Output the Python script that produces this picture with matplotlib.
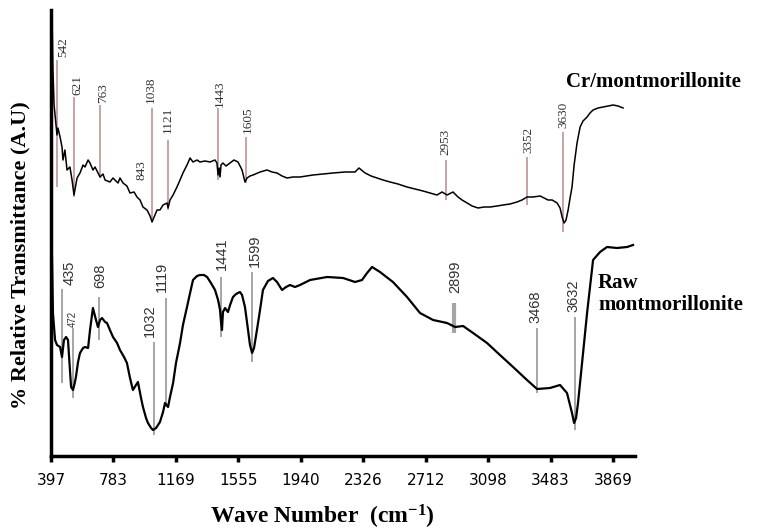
import numpy as np
import matplotlib
matplotlib.use("Agg")
import matplotlib.pyplot as plt

# FTIR spectra (wave number in cm-1, transmittance in arbitrary units)
cr_wn = [403, 409, 416, 422, 434, 440, 453, 465, 471, 483, 496, 514, 527, 539, 558, 576, 595, 607,
         626, 638, 656, 669, 700, 718, 731, 761, 780, 792, 811, 823, 842, 866, 885, 910, 928, 947,
         965, 990, 1009, 1021, 1039, 1052, 1070, 1089, 1114, 1120, 1132, 1151, 1175, 1194, 1212,
         1237, 1256, 1274, 1299, 1317, 1348, 1379, 1410, 1422, 1429, 1435, 1441, 1447, 1459, 1478,
         1503, 1527, 1552, 1577, 1595, 1608, 1626, 1645, 1688, 1731, 1762, 1793, 1824, 1855, 1892,
         1935, 2015, 2077, 2139, 2213, 2275, 2299, 2337, 2374, 2411, 2448, 2491, 2540, 2596, 2645,
         2695, 2738, 2781, 2812, 2843, 2880, 2911, 2936, 2967, 2998, 3035, 3072, 3109, 3152, 3189,
         3232, 3275, 3306, 3337, 3374, 3418, 3467, 3492, 3523, 3541, 3554, 3566, 3578, 3591, 3603,
         3615, 3628, 3646, 3665, 3683, 3708, 3726, 3745, 3776, 3807, 3838, 3869, 3899, 3930]
cr_t = [444, 386, 351, 341, 321, 328, 319, 309, 296, 306, 286, 289, 276, 261, 278, 283, 291, 289,
        296, 293, 286, 289, 279, 282, 276, 274, 278, 276, 273, 278, 273, 270, 263, 264, 259, 256,
        249, 246, 240, 234, 241, 246, 246, 251, 253, 248, 256, 261, 269, 276, 283,
        291, 298, 294, 296, 294, 295, 294, 296, 293, 281, 288, 279, 291, 293, 290,
        293, 296, 294, 286, 274, 278, 280, 281, 284, 286, 284, 283, 280, 278, 279,
        279, 281, 282, 283, 284, 284, 288, 283, 280, 278, 276, 274, 272, 269, 267,
        265, 263, 261, 264, 261, 264, 259, 256, 253, 250, 248, 249, 249, 250, 251,
        252, 254, 256, 259, 259, 260, 256, 256, 253, 248, 239, 233, 236, 246, 258,
        269, 291, 313, 329, 335, 339, 343, 346, 348, 349, 350, 351, 350, 348]

raw_wn = [403, 409, 422, 434, 453, 465, 477, 490, 502, 514, 521, 533, 545, 551, 564, 576, 595, 607,
          626, 638, 656, 675, 687, 700, 712, 731, 743, 761, 780, 805, 823, 848, 866, 885, 903, 922,
          934, 953, 965, 984, 996, 1015, 1027, 1046, 1070, 1089, 1101, 1120, 1132, 1151, 1169,
          1194, 1212, 1237, 1256, 1274, 1299, 1317, 1342, 1361, 1385, 1410, 1429, 1441, 1447, 1453,
          1459, 1472, 1490, 1503, 1521, 1540, 1564, 1577, 1595, 1614, 1626, 1639, 1651, 1669, 1688,
          1706, 1737, 1768, 1793, 1824, 1849, 1873, 1904, 1935, 1997, 2102, 2201, 2275, 2318, 2349,
          2380, 2429, 2509, 2596, 2676, 2757, 2843, 2893, 2942, 3004, 3090, 3170, 3251, 3337, 3399,
          3479, 3541, 3584, 3615, 3628, 3640, 3652, 3677, 3708, 3745, 3788, 3831, 3893, 3955, 3992]
raw_t = [199, 143, 116, 111, 109, 99, 116, 119, 116, 86, 69, 66, 74, 79, 94, 103, 108, 109,
         108, 126, 148, 136, 129, 136, 138, 134, 133, 126, 119, 113, 106, 99, 93, 78, 66, 71,
         74, 58, 49, 38, 33, 28, 26, 28, 34, 44, 53, 49, 59, 73, 93,
         113, 131, 149, 163, 176, 180, 181, 181, 179, 173, 166, 156, 146, 134, 126,
         144, 148, 144, 151, 159, 162, 164, 161, 149, 126, 111, 103, 108, 126, 146,
         166, 175, 178, 174, 166, 169, 171, 169, 171, 176, 179, 178, 174, 176, 183,
         189, 184, 174, 159, 143, 136, 133, 129, 130, 123, 113, 101, 89, 76, 67,
         68, 71, 63, 43, 33, 38, 53, 93, 143, 196, 204, 209, 208, 209, 211]

# peak markers: label, line position, line top, line bottom, label x, label base
cr_peaks = ["542", "621", "763", "1038", "1121", "1443", "1605", "2953", "3352", "3630"]
cr_peak_wn = [434, 539, 700, 1021, 1120, 1429, 1601, 2837, 3337, 3560]
cr_peak_top = [396, 359, 351, 348, 316, 348, 319, 296, 299, 324]
cr_peak_bot = [269, 259, 278, 234, 246, 276, 273, 256, 251, 224]
cr_text_wn = [471, 558, 718, 1015, 1120, 1441, 1614, 2831, 3343, 3560]
cr_text_y = [399, 361, 353, 353, 323, 349, 323, 301, 303, 328]

raw_peaks = ["435", "472", "698", "1032", "1119", "1441", "1599", "2899", "3468", "3632"]
raw_peak_wn = [465, 533, 693, 1033, 1107, 1447, 1639, 2886, 3399, 3634]
raw_peak_top = [167, 128, 159, 114, 158, 179, 184, 153, 128, 139]
raw_peak_bot = [73, 58, 116, 21, 49, 119, 94, 123, 63, 26]
raw_text_wn = [514, 533, 700, 1009, 1083, 1453, 1657, 2893, 3387, 3621]
raw_text_y = [171, 129, 168, 119, 164, 186, 189, 163, 133, 144]

xticks = [397, 783, 1169, 1555, 1940, 2326, 2712, 3098, 3483, 3869]

plt.rcParams['mathtext.fontset'] = 'custom'
plt.rcParams['mathtext.bf'] = 'Liberation Serif:bold'
plt.rcParams['mathtext.rm'] = 'Liberation Serif:bold'
plt.rcParams['mathtext.default'] = 'bf'

fig = plt.figure(figsize=(7.61, 5.30), dpi=100)
ax = fig.add_axes([51 / 761, 74 / 530, 584 / 761, 446 / 530])

# peak marker lines
ax.vlines(cr_peak_wn, cr_peak_bot, cr_peak_top, color='#b98a8a', lw=1.1, zorder=1)
lw_raw = [1.4] * len(raw_peaks)
lw_raw[raw_peaks.index("2899")] = 3
ax.vlines(raw_peak_wn, raw_peak_bot, raw_peak_top, color='#a5a5a5', lw=lw_raw, zorder=1)

ax.plot(cr_wn, cr_t, color='black', lw=1.1, zorder=2)
ax.plot(raw_wn, raw_t, color='black', lw=1.6, zorder=2)

for lab, x, y in zip(cr_peaks, cr_text_wn, cr_text_y):
    ax.text(x, y, lab, rotation=90, ha='center', va='bottom', fontsize=9.5,
            family='Liberation Serif', color='#333333')
ax.text(959, 276, "843", rotation=90, ha='center', va='bottom', fontsize=9.5,
        family='Liberation Serif', color='#333333')

for lab, x, y in zip(raw_peaks, raw_text_wn, raw_text_y):
    ax.text(x, y, lab, rotation=90, ha='center', va='bottom',
            fontsize=7 if lab == "472" else 10.5,
            family=['Liberation Sans Narrow', 'Liberation Sans'], color='#333333')

ax.set_xlim(397, 4004)
ax.set_ylim(0, 446)
ax.set_xticks(xticks)
ax.set_xticklabels([str(t) for t in xticks], family='DejaVu Sans', fontsize=11)
ax.set_yticks([])
ax.tick_params(axis='x', direction='out', length=4, width=2.5, pad=8)
for s in ['top', 'right']:
    ax.spines[s].set_visible(False)
ax.spines['left'].set_linewidth(2.5)
ax.spines['bottom'].set_linewidth(2.5)

fig.text(566 / 761, 1 - 82 / 530, "Cr/montmorillonite", fontsize=15, weight='bold',
         family='Liberation Serif', va='center', ha='left')
fig.text(598 / 761, 1 - 283 / 530, "Raw", fontsize=15, weight='bold',
         family='Liberation Serif', va='center', ha='left')
fig.text(598 / 761, 1 - 305 / 530, "montmorillonite", fontsize=15, weight='bold',
         family='Liberation Serif', va='center', ha='left')

fig.text(322 / 761, 1 - 517 / 530, r"Wave Number  (cm$^{-1}$)", fontsize=17, weight='bold',
         family='Liberation Serif', ha='center', va='center')
fig.text(20 / 761, 1 - 255 / 530, "% Relative Transmittance (A.U)", fontsize=16, weight='bold',
         family='Liberation Serif', ha='center', va='center', rotation=90)

fig.savefig("out.png", dpi=100)
